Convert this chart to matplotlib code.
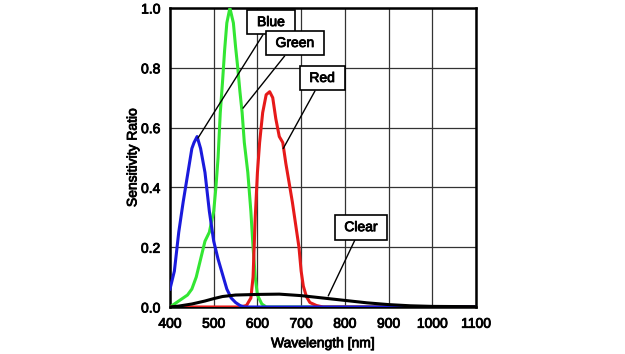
import matplotlib
matplotlib.use("Agg")
import matplotlib.pyplot as plt
import matplotlib.patheffects as pe

plt.rcParams["font.family"] = ["Liberation Sans", "DejaVu Sans"]

# spectral sensitivity
blue_nm = [400, 410, 420, 430, 440, 450, 455, 462, 470, 480, 490, 500, 510, 520, 530, 540, 550, 560, 570, 1100]
blue_val = [0.06, 0.12, 0.25, 0.35, 0.44, 0.53, 0.55, 0.57, 0.53, 0.45, 0.32, 0.22, 0.16, 0.11, 0.06, 0.03, 0.015, 0.005, 0.0, 0.0]

green_nm = [400, 420, 440, 450, 460, 470, 480, 490, 500, 505, 510, 515, 520, 525, 530, 537, 545, 550, 555, 560,
            565, 570, 578, 585, 590, 595, 600, 610, 620, 1100]
green_val = [0.0, 0.02, 0.04, 0.06, 0.1, 0.16, 0.22, 0.25, 0.32, 0.4, 0.5, 0.65, 0.75, 0.86, 0.95, 1.0, 0.95, 0.87,
             0.8, 0.72, 0.65, 0.55, 0.45, 0.32, 0.2, 0.1, 0.04, 0.01, 0.0, 0.0]

red_nm = [400, 560, 575, 585, 590, 595, 600, 605, 612, 620, 628, 635, 642, 650, 658, 665, 672, 680, 688, 695,
          700, 705, 712, 720, 735, 750, 1100]
red_val = [0.0, 0.0, 0.005, 0.03, 0.1, 0.3, 0.45, 0.55, 0.65, 0.71, 0.72, 0.7, 0.63, 0.57, 0.55, 0.48, 0.42, 0.35,
           0.27, 0.2, 0.12, 0.07, 0.035, 0.015, 0.005, 0.0, 0.0]

clear_nm = [400, 420, 450, 480, 500, 520, 550, 600, 650, 700, 750, 800, 850, 900, 950, 1000, 1100]
clear_val = [0.0, 0.003, 0.01, 0.02, 0.028, 0.035, 0.04, 0.042, 0.043, 0.038, 0.03, 0.022, 0.014, 0.008, 0.004,
             0.002, 0.001]

# label text, label position, pointed point
labels = ["Blue", "Green", "Red", "Clear"]
label_xy = [(631, 0.953), (686, 0.883), (748, 0.766), (837, 0.267)]
point_xy = [(464, 0.565), (567, 0.665), (659, 0.53), (762, 0.037)]

x_ticks = [400, 500, 600, 700, 800, 900, 1000, 1100]
y_ticks = [0.0, 0.2, 0.4, 0.6, 0.8, 1.0]

# slightly heavier text, the reference looks like a blurred Arial
heavy = [pe.withStroke(linewidth=0.6, foreground="black")]

fig = plt.figure(figsize=(6.25, 3.54), dpi=100)
ax = fig.add_axes([0.272, 0.1328, 0.4896, 0.8446])

lw = 2.2
ax.plot(green_nm, green_val, color="#33e633", lw=lw, zorder=3)
ax.plot(red_nm, red_val, color="#e61a1a", lw=lw, zorder=3)
ax.plot(blue_nm, blue_val, color="#1a1adc", lw=lw, zorder=4)
ax.plot(clear_nm, clear_val, color="black", lw=lw, zorder=5)

for txt, xy, pt in zip(labels, label_xy, point_xy):
    ax.annotate(txt, xy=pt, xytext=xy, ha="center", va="center", fontsize=10, path_effects=heavy,
                bbox=dict(boxstyle="square,pad=0.7", mutation_aspect=0.55, fc="white", ec="black", lw=1.2),
                arrowprops=dict(arrowstyle="-", color="black", lw=1.0, shrinkA=0, shrinkB=0),
                zorder=6)

ax.set_xlim(400, 1100)
ax.set_ylim(0, 1.0)
ax.set_xticks(x_ticks)
ax.set_yticks(y_ticks)
ax.set_yticklabels([f"{v:.1f}" for v in y_ticks])
ax.tick_params(length=0, pad=7, labelsize=10)
for lab in ax.get_xticklabels() + ax.get_yticklabels():
    lab.set_path_effects(heavy)
ax.grid(True, color="#333333", lw=0.9)
ax.set_axisbelow(True)
for s in ax.spines.values():
    s.set_linewidth(1.8)

ax.set_xlabel("Wavelength [nm]", fontsize=10, labelpad=4, path_effects=heavy)
ax.set_ylabel("Sensitivity Ratio", fontsize=10, labelpad=1, path_effects=heavy)

fig.savefig("out.png", dpi=100)
